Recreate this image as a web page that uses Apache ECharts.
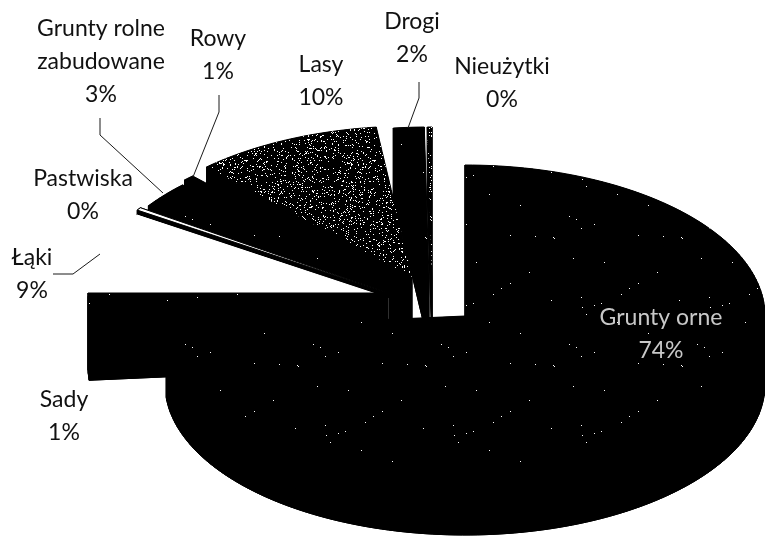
<!DOCTYPE html>
<html>
<head>
<meta charset="utf-8">
<style>
  html, body { margin: 0; padding: 0; background: #fff; }
  #chart { width: 765px; height: 537px; }
</style>
<script src="https://cdn.jsdelivr.net/npm/echarts@6/dist/echarts.min.js"></script>
</head>
<body>
<div id="chart"></div>
<script>
// values
const categories = ['Grunty orne', 'Sady', 'Łąki', 'Pastwiska', 'Grunty rolne\nzabudowane', 'Rowy', 'Lasy', 'Drogi', 'Nieużytki']
const shares = [73.6, 1.4, 9.25, 0.3, 2.85, 0.6, 10.1, 1.65, 0.25]

// pie geometry
const radiusX = 300
const radiusY = 151
const depths = [68, 74, 68, 68, 68, 68, 68, 68, 68]
const apexes = [[465, 316], [388, 293], [388, 298], [388, 293], [396, 291], [398, 286], [412, 277], [429, 278], [432, 278]]
const fills = ['sparse', 'sparse', 'white', 'white', 'sparse', 'black', 'dense', 'sparse', 'dense']
const labelPos = [[661, 334], [64, 416], [32, 274], [83, 195], [101, 62], [218, 55], [321, 81], [412, 38], [502, 83]]
const leaders = [null, null, [[53, 274], [73, 274], [100, 254]], null, [[100, 118], [100, 135], [163, 193]], [[219, 95], [219, 112], [193, 177]], null, [[419, 82], [419, 98], [408, 128]], null]

// 点状纹理
const makeTile = count => {
  const size = 128
  const c = document.createElement('canvas')
  c.width = c.height = size
  const ctx = c.getContext('2d')
  ctx.fillStyle = '#000'
  ctx.fillRect(0, 0, size, size)
  ctx.fillStyle = '#fff'
  let s = 7
  const next = () => {
    s = (Math.imul(s, 1103515245) + 12345) & 0x7fffffff
    return (s >> 12) % size
  }
  for (let i = 0; i < count; i++) {
    ctx.fillRect(next(), next(), 1, 1)
  }
  return { image: c, repeat: 'repeat' }
}
const patterns = { sparse: makeTile(22), dense: makeTile(1500), black: '#000', white: '#fff' }

const total = shares.reduce((a, b) => a + b, 0)
const starts = []
shares.reduce((sum, v, i) => { starts[i] = sum; return sum + v }, 0)

const toAngle = v => echarts.number.linearMap(v, [0, total], [0, Math.PI * 2])

const outline = i => {
  const [cx, cy] = apexes[i]
  const a0 = toAngle(starts[i])
  const a1 = toAngle(starts[i] + shares[i])
  const n = Math.max(2, Math.ceil((a1 - a0) * 40))
  const pts = [[cx, cy]]
  for (let k = 0; k <= n; k++) {
    const a = a0 + (a1 - a0) * k / n
    pts.push([cx + radiusX * Math.sin(a), cy - radiusY * Math.cos(a)])
  }
  return pts
}

// 从后往前画
const paintOrder = [8, 7, 6, 5, 4, 3, 2, 1, 0]

const renderItem = (params, api) => {
  const i = api.value(0)
  const pts = outline(i)
  const depth = depths[i]
  const wall = i === 2 ? '#fff' : '#000'
  const z = params.dataIndex + 1
  const children = []
  const poly = (points, fill, stroke) => ({
    type: 'polygon',
    z2: z,
    shape: { points },
    style: { fill, stroke: stroke || null, lineWidth: stroke ? 1 : 0 }
  })
  children.push(poly(pts.map(p => [p[0], p[1] + depth]), wall, wall))
  pts.forEach((p, k) => {
    const q = pts[(k + 1) % pts.length]
    children.push(poly([p, q, [q[0], q[1] + depth], [p[0], p[1] + depth]], wall, wall))
  })
  // Pastwiska 只留一条细白线
  children.push(poly(pts, patterns[fills[i]], i === 3 ? '#000' : null))

  if (leaders[i]) {
    children.push({
      type: 'polyline',
      z2: 20,
      shape: { points: leaders[i] },
      style: { fill: null, stroke: '#1a1a1a', lineWidth: 1 }
    })
  }
  children.push({
    type: 'text',
    z2: 21,
    x: labelPos[i][0],
    y: labelPos[i][1],
    style: {
      text: categories[i] + '\n' + Math.round(shares[i]) + '%',
      fill: i === 0 ? '#c8c8c8' : '#111',
      fontFamily: 'Lato',
      fontSize: 23,
      lineHeight: 33,
      align: 'center',
      verticalAlign: 'middle'
    }
  })
  return { type: 'group', children }
}

const chart = echarts.init(document.getElementById('chart'), null, { renderer: 'canvas' })
chart.setOption({
  animation: false,
  backgroundColor: '#fff',
  series: [{
    type: 'custom',
    coordinateSystem: 'none',
    silent: true,
    clip: false,
    renderItem,
    data: paintOrder.map(i => [i, shares[i]])
  }]
})
</script>
</body>
</html>
